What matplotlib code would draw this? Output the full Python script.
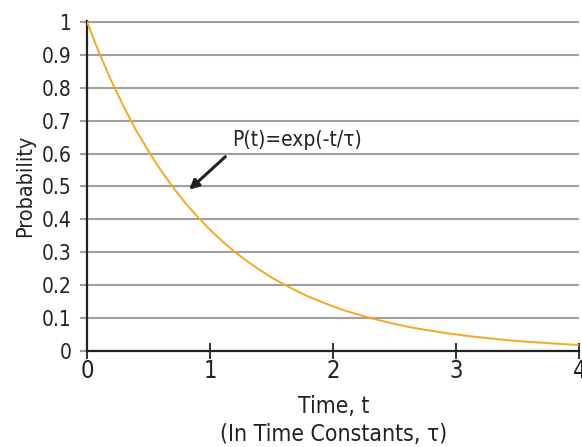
import matplotlib.pyplot as plt

# values
t = [0.0, 0.1, 0.2, 0.3, 0.4, 0.5, 0.6, 0.7, 0.8, 0.9, 1.0,
     1.1, 1.2, 1.3, 1.4, 1.5, 1.6, 1.7, 1.8, 1.9, 2.0,
     2.1, 2.2, 2.3, 2.4, 2.5, 2.6, 2.7, 2.8, 2.9, 3.0,
     3.1, 3.2, 3.3, 3.4, 3.5, 3.6, 3.7, 3.8, 3.9, 4.0]
prob = [1.0, 0.905, 0.819, 0.741, 0.670, 0.607, 0.549, 0.497, 0.449, 0.407, 0.368,
        0.333, 0.301, 0.273, 0.247, 0.223, 0.202, 0.183, 0.165, 0.150, 0.135,
        0.122, 0.111, 0.100, 0.091, 0.082, 0.074, 0.067, 0.061, 0.055, 0.050,
        0.045, 0.041, 0.037, 0.033, 0.030, 0.027, 0.025, 0.022, 0.020, 0.018]
x_ticks = [0, 1, 2, 3, 4]
y_ticks = [0, 0.1, 0.2, 0.3, 0.4, 0.5, 0.6, 0.7, 0.8, 0.9, 1]
y_labels = ['0', '0.1', '0.2', '0.3', '0.4', '0.5', '0.6', '0.7', '0.8', '0.9', '1']

plt.rcParams['font.family'] = ['DejaVu Sans']
plt.rcParams['font.stretch'] = 'condensed'

fig = plt.figure(figsize=(5.82, 4.47), dpi=100)
ax = fig.add_axes([0.1495, 0.215, 0.846, 0.738])

ax.plot(t, prob, color='#F7A823', lw=1.4, zorder=3)

ax.set_xlim(0, 4)
ax.set_ylim(0, 1.003)
ax.set_xticks(x_ticks)
ax.set_xticklabels([str(v) for v in x_ticks])
ax.set_yticks(y_ticks)
ax.set_yticklabels(y_labels)

ax.grid(axis='y', color='#a0a0a0', lw=1.5)
ax.set_axisbelow(True)
for s in ['top', 'right']:
    ax.spines[s].set_visible(False)
for s in ['left', 'bottom']:
    ax.spines[s].set_color('#222222')
    ax.spines[s].set_linewidth(1.6)

ax.tick_params(axis='x', direction='inout', length=11, width=1.3, colors='#222222',
               labelsize=17, pad=0)
ax.tick_params(axis='y', direction='out', length=5, width=1.5, color='#a0a0a0',
               labelcolor='#222222', labelsize=15, pad=6)

ax.set_ylabel('Probability', fontsize=15.5, color='#222222', labelpad=5)
ax.set_xlabel('Time, t\n(In Time Constants, \u03c4)', fontsize=16.5, color='#222222',
              linespacing=1.25, labelpad=9)

ax.annotate('P(t)=exp(-t/\u03c4)', xy=(0.83, 0.49), xytext=(1.18, 0.64),
            fontsize=15, color='#222222', ha='left', va='center',
            arrowprops=dict(arrowstyle='-|>', color='#222222', lw=2.2,
                            mutation_scale=14, shrinkA=4, shrinkB=0,
                            relpos=(0, 0)))

fig.savefig('out.png', dpi=100)
